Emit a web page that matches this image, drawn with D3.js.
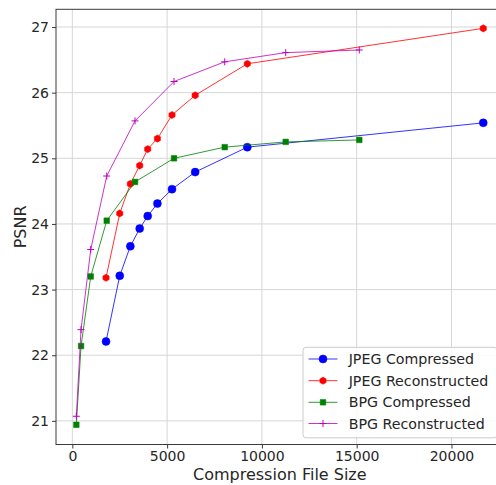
<!DOCTYPE html>
<html>
<head>
<meta charset="utf-8">
<script src="https://cdn.jsdelivr.net/npm/d3@7"></script>
<style>
  html, body { margin: 0; padding: 0; background: #fff; }
  svg { display: block; font-family: "DejaVu Sans", sans-serif; }
</style>
</head>
<body>
<svg id="chart" width="496" height="485"></svg>
<script>
// ---- data ----
const jpegSizes = [1777, 2500, 3060, 3553, 3975, 4487, 5258, 6480, 9230, 21677];
const jpegCompressed = [22.21, 23.21, 23.66, 23.93, 24.12, 24.31, 24.53, 24.79, 25.17, 25.54];
const jpegReconstructed = [23.18, 24.16, 24.61, 24.89, 25.14, 25.30, 25.66, 25.96, 26.44, 26.98];
const bpgSizes = [211, 459, 970, 1814, 3307, 5364, 8038, 11255, 15137];
const bpgCompressed = [20.94, 22.14, 23.20, 24.05, 24.64, 25.00, 25.17, 25.25, 25.28];
const bpgReconstructed = [21.07, 22.39, 23.61, 24.73, 25.57, 26.17, 26.47, 26.61, 26.65];
const xTicks = [0, 5000, 10000, 15000, 20000];
const yTicks = [21, 22, 23, 24, 25, 26, 27];
const seriesNames = ["JPEG Compressed", "JPEG Reconstructed", "BPG Compressed", "BPG Reconstructed"];

const series = [
  { name: seriesNames[0], xs: jpegSizes, ys: jpegCompressed, color: "#0000ff", marker: "circle" },
  { name: seriesNames[1], xs: jpegSizes, ys: jpegReconstructed, color: "#ff0000", marker: "hexagon" },
  { name: seriesNames[2], xs: bpgSizes, ys: bpgCompressed, color: "#008000", marker: "square" },
  { name: seriesNames[3], xs: bpgSizes, ys: bpgReconstructed, color: "#bf00bf", marker: "plus" }
];

(function () {
// ---- layout ----
const svg = d3.select("#chart");
const pL = 56, pT = 9.3, pR = 503.6, pB = 444.5;
const x = d3.scaleLinear().domain([-862, 22750]).range([pL, pR]);
const y = d3.scaleLinear().domain([20.64, 27.27]).range([pB, pT]);
const textColor = "#262626";

// grid
const grid = svg.append("g");
grid.selectAll("line.gx").data(xTicks).join("line")
  .attr("x1", d => x(d)).attr("x2", d => x(d)).attr("y1", pT).attr("y2", pB)
  .attr("stroke", "#d6d6d6").attr("stroke-width", 1);
grid.selectAll("line.gy").data(yTicks).join("line")
  .attr("y1", d => y(d)).attr("y2", d => y(d)).attr("x1", pL).attr("x2", pR)
  .attr("stroke", "#d6d6d6").attr("stroke-width", 1);

// series
function markerPath(type) {
  if (type === "circle") return d3.symbol(d3.symbolCircle, 50)();
  if (type === "square") return "M-2.8,-2.8H2.8V2.8H-2.8Z";
  if (type === "hexagon") {
    const r = 3.6; let p = "";
    for (let i = 0; i < 6; i++) {
      const a = Math.PI / 2 + i * Math.PI / 3;
      p += (i ? "L" : "M") + (r * Math.cos(a)).toFixed(2) + "," + (r * Math.sin(a)).toFixed(2);
    }
    return p + "Z";
  }
  return "M-3.5,0H3.5M0,-3.5V3.5";
}

const line = d3.line().x(d => x(d[0])).y(d => y(d[1]));
series.forEach(s => {
  const pts = s.xs.map((v, i) => [v, s.ys[i]]);
  const g = svg.append("g");
  g.append("path").attr("d", line(pts)).attr("fill", "none")
    .attr("stroke", s.color).attr("stroke-width", 1).attr("stroke-opacity", 0.8);
  g.selectAll("path.m").data(pts).join("path")
    .attr("d", markerPath(s.marker))
    .attr("transform", d => `translate(${x(d[0])},${y(d[1])})`)
    .attr("fill", s.marker === "plus" ? "none" : s.color)
    .attr("stroke", s.color).attr("stroke-width", s.marker === "plus" ? 1 : 0.5);
});

// spines
svg.append("rect").attr("x", pL).attr("y", pT).attr("width", pR - pL).attr("height", pB - pT)
  .attr("fill", "none").attr("stroke", "#3a3a3a").attr("stroke-width", 1);

// axes
const xAxis = d3.axisBottom(x).tickValues(xTicks).tickFormat(d3.format("d")).tickSize(4).tickPadding(3);
const gx = svg.append("g").attr("transform", `translate(0,${pB})`).call(xAxis);
gx.select(".domain").remove();
gx.selectAll("line").attr("stroke", "#3a3a3a");
gx.selectAll("text").attr("font-size", 14).attr("fill", textColor).attr("font-family", "DejaVu Sans");

const yAxis = d3.axisLeft(y).tickValues(yTicks).tickFormat(d3.format("d")).tickSize(4).tickPadding(3);
const gy = svg.append("g").attr("transform", `translate(${pL},0)`).call(yAxis);
gy.select(".domain").remove();
gy.selectAll("line").attr("stroke", "#3a3a3a");
gy.selectAll("text").attr("font-size", 14).attr("fill", textColor).attr("font-family", "DejaVu Sans");

svg.append("text").attr("x", (pL + pR) / 2).attr("y", 480)
  .attr("text-anchor", "middle").attr("font-size", 16).attr("fill", textColor)
  .text("Compression File Size");
svg.append("text").attr("transform", `translate(26,${(pT + pB) / 2}) rotate(-90)`)
  .attr("text-anchor", "middle").attr("font-size", 16).attr("fill", textColor)
  .text("PSNR");

// legend
const lg = svg.append("g");
lg.append("rect").attr("x", 303).attr("y", 347.3).attr("width", 194).attr("height", 90.5)
  .attr("rx", 3).attr("fill", "#fff").attr("fill-opacity", 0.85)
  .attr("stroke", "#cccccc").attr("stroke-width", 1);
const rowY = [359, 380.7, 402.3, 423.5];
series.forEach((s, i) => {
  const yy = rowY[i];
  lg.append("line").attr("x1", 308.5).attr("x2", 337.5).attr("y1", yy).attr("y2", yy)
    .attr("stroke", s.color).attr("stroke-width", 1).attr("stroke-opacity", 0.8);
  lg.append("path").attr("d", markerPath(s.marker))
    .attr("transform", `translate(323,${yy})`)
    .attr("fill", s.marker === "plus" ? "none" : s.color)
    .attr("stroke", s.color).attr("stroke-width", s.marker === "plus" ? 1 : 0.5);
  lg.append("text").attr("x", 348.7).attr("y", yy).attr("dy", "0.36em")
    .attr("font-size", 14.2).attr("fill", textColor).text(s.name);
});
})();
</script>
</body>
</html>
